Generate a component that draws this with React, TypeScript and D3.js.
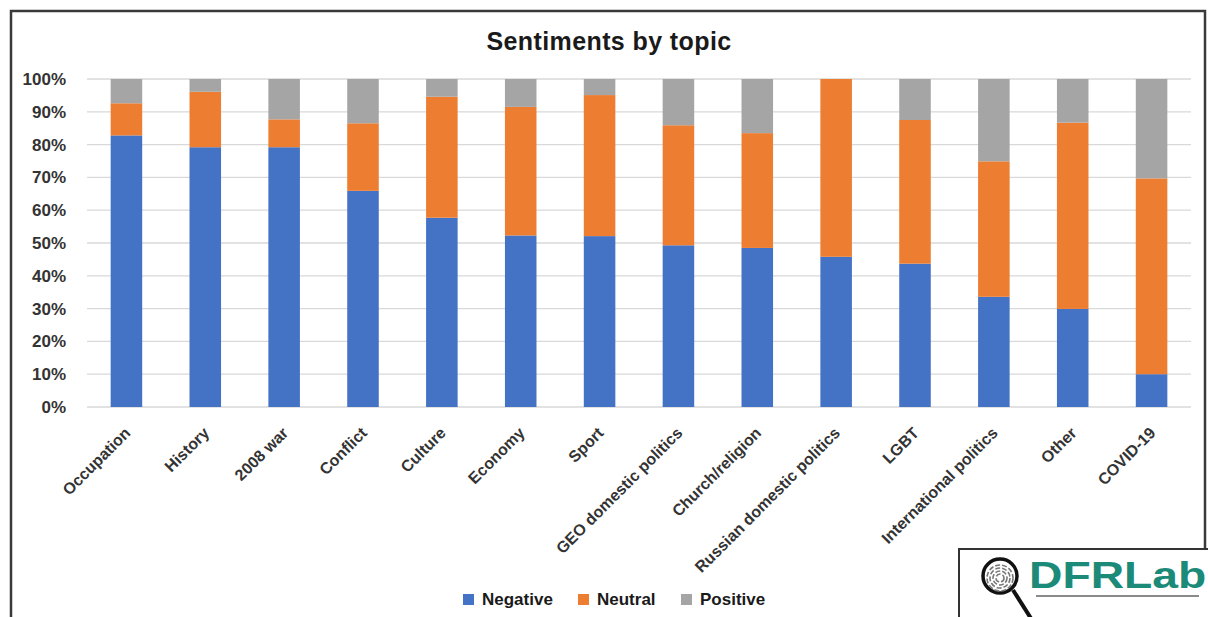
import React, { useEffect, useRef } from 'react';
import * as d3 from 'd3';

const topics = [
  'Occupation',
  'History',
  '2008 war',
  'Conflict',
  'Culture',
  'Economy',
  'Sport',
  'GEO domestic politics',
  'Church/religion',
  'Russian domestic politics',
  'LGBT',
  'International politics',
  'Other',
  'COVID-19',
];

const negative = [82.8, 79.2, 79.2, 65.9, 57.7, 52.3, 52.1, 49.3, 48.5, 45.8, 43.7, 33.6, 29.9, 10.0];
const neutral = [9.8, 16.9, 8.5, 20.6, 36.9, 39.2, 43.0, 36.6, 35.0, 54.2, 43.8, 41.3, 56.8, 59.7];
const positive = [7.4, 3.9, 12.3, 13.5, 5.4, 8.5, 4.9, 14.1, 16.5, 0.0, 12.5, 25.1, 13.3, 30.3];

const seriesNames = ['Negative', 'Neutral', 'Positive'];
const seriesColors = ['#4472C4', '#ED7D31', '#A5A5A5'];
const yTicks = [0, 10, 20, 30, 40, 50, 60, 70, 80, 90, 100];

const FONT = '"Liberation Sans", Arial, sans-serif';

export default function App() {
  const svgRef = useRef<SVGSVGElement>(null);

  useEffect(() => {
    document.body.style.margin = '0';
    if (!svgRef.current) return;
    const svg = d3.select(svgRef.current);
    svg.selectAll('*').remove();

    const W = 1208;
    const H = 617;
    const margin = { top: 79, right: 17, bottom: 210, left: 87 };
    const width = W - margin.left - margin.right;
    const height = H - margin.top - margin.bottom;

    svg.attr('width', W).attr('height', H);
    svg.append('rect').attr('width', W).attr('height', H).attr('fill', '#fff');

    // outer frame
    svg
      .append('path')
      .attr('d', `M11,${H + 5} L11,11 L1205,11 L1205,${H + 5}`)
      .attr('fill', 'none')
      .attr('stroke', '#3a3a3a')
      .attr('stroke-width', 2.5);

    svg
      .append('text')
      .attr('x', 609)
      .attr('y', 50)
      .attr('text-anchor', 'middle')
      .style('font-family', FONT)
      .style('font-weight', 'bold')
      .style('font-size', '25px')
      .style('letter-spacing', '0.4px')
      .style('fill', '#1a1a1a')
      .text('Sentiments by topic');

    const g = svg.append('g').attr('transform', `translate(${margin.left},${margin.top})`);

    const x = d3.scaleBand().domain(topics).range([0, width]).paddingInner(0.6).paddingOuter(0.3);
    const y = d3.scaleLinear().domain([0, 100]).range([height, 0]);

    // gridlines
    g.selectAll('.grid')
      .data(yTicks)
      .enter()
      .append('line')
      .attr('x1', 0)
      .attr('x2', width)
      .attr('y1', (d) => y(d))
      .attr('y2', (d) => y(d))
      .attr('stroke', '#d9d9d9')
      .attr('stroke-width', 1.3);

    // y labels
    g.selectAll('.ylab')
      .data(yTicks)
      .enter()
      .append('text')
      .attr('x', -21)
      .attr('y', (d) => y(d))
      .attr('dy', '0.35em')
      .attr('text-anchor', 'end')
      .style('font-family', FONT)
      .style('font-weight', 'bold')
      .style('font-size', '17px')
      .style('fill', '#333')
      .text((d) => `${d}%`);

    const rows = topics.map((t, i) => ({
      topic: t,
      Negative: negative[i],
      Neutral: neutral[i],
      Positive: positive[i],
    }));
    const stacked = d3.stack<any>().keys(seriesNames)(rows);

    g.selectAll('.series')
      .data(stacked)
      .enter()
      .append('g')
      .attr('fill', (_, i) => seriesColors[i])
      .selectAll('rect')
      .data((d) => d)
      .enter()
      .append('rect')
      .attr('x', (d: any) => x(d.data.topic) || 0)
      .attr('width', x.bandwidth())
      .attr('y', (d) => y(d[1]))
      .attr('height', (d) => y(d[0]) - y(d[1]));

    // x labels
    g.selectAll('.xlab')
      .data(topics)
      .enter()
      .append('text')
      .attr('transform', (d) => `translate(${(x(d) || 0) + x.bandwidth() / 2 + 5},${height + 27}) rotate(-45)`)
      .attr('text-anchor', 'end')
      .style('font-family', FONT)
      .style('font-weight', 'bold')
      .style('font-size', '16px')
      .style('fill', '#333')
      .text((d) => d);

    // legend
    const legendX = [463, 578, 681];
    const lg = svg.append('g');
    seriesNames.forEach((name, i) => {
      lg.append('rect')
        .attr('x', legendX[i])
        .attr('y', 594)
        .attr('width', 11)
        .attr('height', 11)
        .attr('fill', seriesColors[i]);
      lg.append('text')
        .attr('x', legendX[i] + 19)
        .attr('y', 599)
        .attr('dy', '0.36em')
        .style('font-family', FONT)
        .style('font-weight', 'bold')
        .style('font-size', '17px')
        .style('fill', '#1a1a1a')
        .text(name);
    });

    // DFRLab logo
    const logo = svg.append('g');
    logo
      .append('rect')
      .attr('x', 959)
      .attr('y', 549)
      .attr('width', 270)
      .attr('height', 100)
      .attr('fill', '#fff')
      .attr('stroke', '#333')
      .attr('stroke-width', 2);
    logo
      .append('line')
      .attr('x1', 1013)
      .attr('y1', 590)
      .attr('x2', 1032)
      .attr('y2', 620)
      .attr('stroke', '#111')
      .attr('stroke-width', 4);
    logo
      .append('circle')
      .attr('cx', 1000)
      .attr('cy', 576)
      .attr('r', 17)
      .attr('fill', '#fff')
      .attr('stroke', '#111')
      .attr('stroke-width', 3.5);
    [4, 7, 10, 13].forEach((r) => {
      logo
        .append('circle')
        .attr('cx', 1000)
        .attr('cy', 578)
        .attr('r', r)
        .attr('fill', 'none')
        .attr('stroke', '#777')
        .attr('stroke-width', 1.6)
        .attr('stroke-dasharray', '5,2');
    });
    logo
      .append('text')
      .attr('transform', 'translate(1029,588) scale(1.25,1)')
      .style('font-family', FONT)
      .style('font-weight', 'bold')
      .style('font-size', '37px')
      .style('fill', '#1b8a78')
      .text('DFRLab');
    logo
      .append('line')
      .attr('x1', 1036)
      .attr('x2', 1199)
      .attr('y1', 596)
      .attr('y2', 596)
      .attr('stroke', '#8a8a8a')
      .attr('stroke-width', 2);
  }, []);

  return (
    <div style={{ position: 'absolute', left: 0, top: 0 }}>
      <svg ref={svgRef}></svg>
    </div>
  );
}
